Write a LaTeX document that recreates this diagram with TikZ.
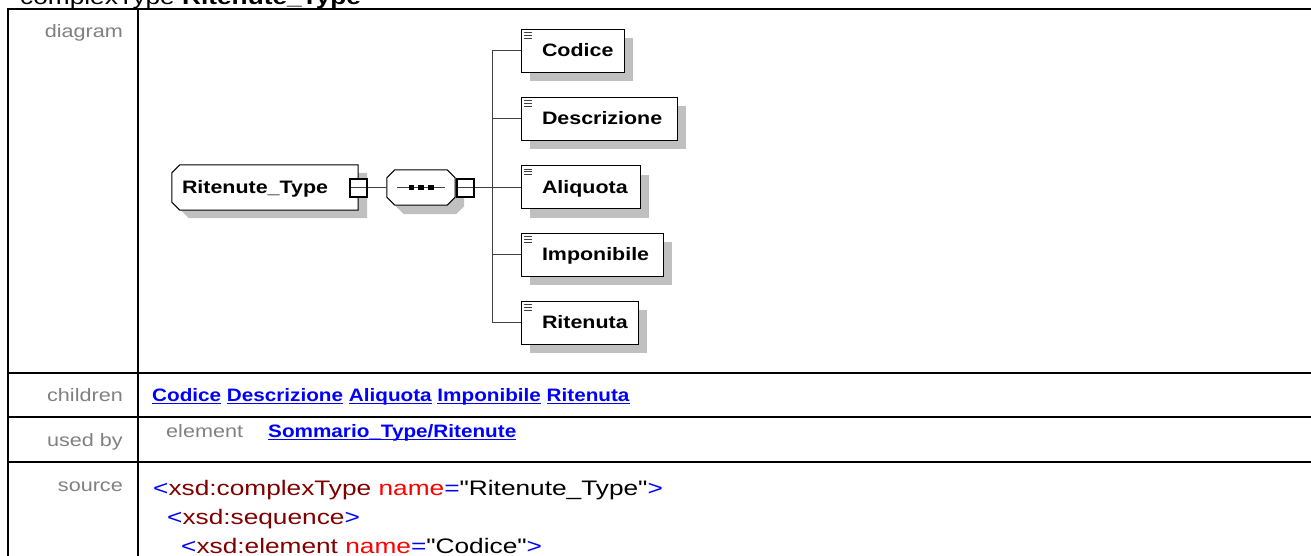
\documentclass[tikz,border=0pt]{standalone}
\usepackage{fontspec}
\setmainfont{Liberation Sans}
\newfontfamily\srcfont[FakeStretch=1.25]{Liberation Sans}
\newfontfamily\lblfont[FakeStretch=1.2]{Liberation Sans}
\newfontfamily\dgfont[FakeStretch=1.19]{Liberation Sans}
\newfontfamily\lnkfont[FakeStretch=1.15]{Liberation Sans}
\usetikzlibrary{shadows,backgrounds}
\definecolor{lblgray}{HTML}{808080}
\definecolor{shadowgray}{HTML}{C0C0C0}
\definecolor{lnkblue}{HTML}{0000FF}
\definecolor{tagred}{HTML}{800000}
\definecolor{attrred}{HTML}{FF0000}
\definecolor{linegray}{HTML}{404040}
\newsavebox\mylnkbox
\newcommand{\lnk}[1]{\sbox\mylnkbox{#1}\rlap{\rule[-3pt]{\wd\mylnkbox}{1.5pt}}\usebox\mylnkbox}
\newcommand{\tB}[1]{\textcolor{lnkblue}{#1}}
\newcommand{\tR}[1]{\textcolor{tagred}{#1}}
\newcommand{\tA}[1]{\textcolor{attrred}{#1}}
\begin{document}
\begin{tikzpicture}[x=1pt,y=-1pt,
  tbl/.style={line width=2pt, black},
  lbl/.style={inner sep=0pt, text=lblgray, font=\lblfont\fontsize{18}{21}\selectfont},
  lnkstyle/.style={inner sep=0pt, text=lnkblue, font=\lnkfont\bfseries\fontsize{18}{21}\selectfont},
  src/.style={inner sep=0pt, font=\srcfont\fontsize{21}{25}\selectfont},
  dgtext/.style={font=\dgfont\bfseries\fontsize{18}{21}\selectfont, text height=12.9pt, text depth=0pt, align=left, inner ysep=0pt},
  childbox/.style={dgtext, rectangle, draw=black, line width=1pt, fill=white, minimum height=43pt, inner xsep=21pt,
    drop shadow={shadow xshift=9pt, shadow yshift=-9pt, fill=shadowgray, opacity=1},
    path picture={
      \draw[linegray, line width=0.8pt]
        ([shift={(3,3.5)}]path picture bounding box.north west) -- ++(8,0)
        ([shift={(3,6.2)}]path picture bounding box.north west) -- ++(8,0)
        ([shift={(3,8.9)}]path picture bounding box.north west) -- ++(8,0);}},
  rootnode/.style={dgtext, rectangle, inner xsep=10pt, text width=166pt, minimum height=45pt},
  seqnode/.style={rectangle, inner sep=0pt, minimum width=68pt, minimum height=35pt},
  minusbox/.style={rectangle, draw=black, line width=2pt, fill=white, inner sep=0pt, minimum width=17pt, minimum height=18pt,
    path picture={\draw[linegray, line width=1pt] (path picture bounding box.west) -- (path picture bounding box.east);}},
  conn/.style={linegray, line width=1pt},
  shapeline/.style={draw=black, line width=1pt, fill=white}
]
\useasboundingbox (0,0) rectangle (1311,555);

% table frame
\draw[tbl] (7,9) -- (1311,9);
\draw[tbl] (8,8) -- (8,556);
\draw[tbl] (138,9) -- (138,556);
\draw[tbl] (7,373) -- (1311,373);
\draw[tbl] (7,417) -- (1311,417);
\draw[tbl] (7,461.5) -- (1311,461.5);

% title
\node[src, anchor=base west] (title) at (20,4) {complexType \bfseries Ritenute\_Type};

% row labels
\node[lbl, anchor=base east] (ldiag) at (123,37) {diagram};
\node[lbl, anchor=base east] (lchild) at (123,401) {children};
\node[lbl, anchor=base east] (lused) at (123,446) {used by};
\node[lbl, anchor=base east] (lsrc) at (123,491) {source};

% diagram nodes
\node[rootnode] (rt) at (265,187.5) {Ritenute\_Type};
\node[seqnode] (seq) at (421,187.5) {};
\node[minusbox] (rtm) at (rt.east) {};
\node[minusbox, anchor=west] (seqm) at ([xshift=1pt]seq.east) {};

\node[childbox, text width=61pt] (codice) at (572.5,50.5) {Codice};
\node[childbox, text width=114pt] (descr) at (599,118.5) {Descrizione};
\node[childbox, text width=77pt] (aliq) at (580.5,187) {Aliquota};
\node[childbox, text width=100pt] (impon) at (592,254.5) {Imponibile};
\node[childbox, text width=75pt] (riten) at (579.5,322.5) {Ritenuta};

\coordinate (bx) at (492,0);

\begin{pgfonlayer}{background}
  % root shadow and shape
  \fill[shadowgray] ([shift={(17,8)}]rt.north west) -- ([shift={(9,8)}]rt.north east) -- ([shift={(9,8)}]rt.south east)
     -- ([shift={(17,8)}]rt.south west) -- ([shift={(9,0)}]rt.south west) -- ([shift={(9,16)}]rt.north west) -- cycle;
  \path[shapeline] ([shift={(8,0)}]rt.north west) -- (rt.north east) -- (rt.south east)
     -- ([shift={(8,0)}]rt.south west) -- ([shift={(0,-8)}]rt.south west) -- ([shift={(0,8)}]rt.north west) -- cycle;
  % sequence shadow and shape
  \fill[shadowgray] ([shift={(17,9)}]seq.north west) -- ([shift={(1,9)}]seq.north east) -- ([shift={(9,17)}]seq.north east)
     -- ([shift={(9,1)}]seq.south east) -- ([shift={(1,9)}]seq.south east) -- ([shift={(17,9)}]seq.south west)
     -- ([shift={(9,1)}]seq.south west) -- ([shift={(9,17)}]seq.north west) -- cycle;
  \path[shapeline] ([shift={(8,0)}]seq.north west) -- ([shift={(-8,0)}]seq.north east) -- ([shift={(0,8)}]seq.north east)
     -- ([shift={(0,-8)}]seq.south east) -- ([shift={(-8,0)}]seq.south east) -- ([shift={(8,0)}]seq.south west)
     -- ([shift={(0,-8)}]seq.south west) -- ([shift={(0,8)}]seq.north west) -- cycle;
\end{pgfonlayer}

% sequence symbol
\draw[conn] ([xshift=-24pt]seq.center) -- ([xshift=24pt]seq.center);
\fill[black] ([shift={(-12.5,-2.6)}]seq.center) rectangle ++(5.5,5.2);
\fill[black] ([shift={(-2.75,-2.6)}]seq.center) rectangle ++(5.5,5.2);
\fill[black] ([shift={(7,-2.6)}]seq.center) rectangle ++(5.5,5.2);

% connectors
\draw[conn] (rtm.east) -- (seq.west);
\draw[conn] (seqm.east) -- (seqm.east -| bx);
\draw[conn] (codice.west -| bx) -- (riten.west -| bx);
\foreach \n in {codice,descr,aliq,impon,riten}
  \draw[conn] (\n.west -| bx) -- (\n.west);

% children row
\node[lnkstyle, anchor=base west] (links) at (152,401)
  {\lnk{Codice} \lnk{Descrizione} \lnk{Aliquota} \lnk{Imponibile} \lnk{Ritenuta}};

% used by row
\node[lbl, anchor=base west] (lelem) at (166,437) {element};
\node[lnkstyle, anchor=base west] (usedlink) at (268,437) {\lnk{Sommario\_Type/Ritenute}};

% source
\node[src, anchor=base west] (s1) at (153,495)
  {\tB{<}\tR{xsd:complexType} \tA{name}\tB{=}"Ritenute\_Type"\tB{>}};
\node[src, anchor=base west] (s2) at (167,524)
  {\tB{<}\tR{xsd:sequence}\tB{>}};
\node[src, anchor=base west] (s3) at (181,553)
  {\tB{<}\tR{xsd:element} \tA{name}\tB{=}"Codice"\tB{>}};
\end{tikzpicture}
\end{document}
